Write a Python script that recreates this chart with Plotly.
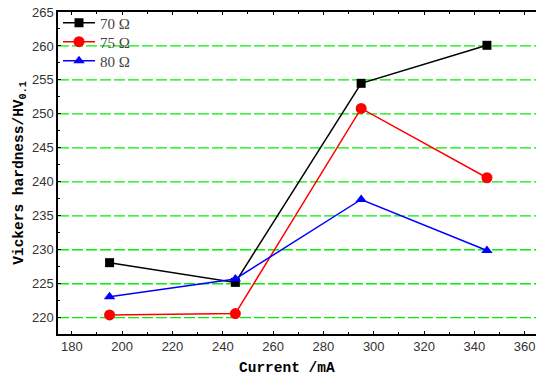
import plotly.graph_objects as go

# Vickers hardness vs. current for three resistances
current_ma = [195, 245, 295, 345]
hv_70 = [228.1, 225.2, 254.5, 260.1]
hv_75 = [220.4, 220.6, 250.8, 240.6]
hv_80 = [223.1, 225.7, 237.4, 229.9]

series = [
    ("70 Ω", hv_70, "black", "square", 9, "legend", 0.966),
    ("75 Ω", hv_75, "red", "circle", 11, "legend2", 0.907),
    ("80 Ω", hv_80, "blue", "triangle-up", 10, "legend3", 0.848),
]

legend_font = dict(family="Liberation Serif", size=15, color="#444")

fig = go.Figure()
legend_layout = {}
for name, vals, color, symbol, size, leg, ypos in series:
    fig.add_trace(go.Scatter(
        x=current_ma, y=vals, name=name, mode="lines+markers",
        line=dict(color=color, width=1.5),
        marker=dict(color=color, symbol=symbol, size=size),
        legend=leg,
    ))
    legend_layout[leg] = dict(
        x=0.0, y=ypos, xanchor="left", yanchor="middle",
        bgcolor="rgba(0,0,0,0)", borderwidth=0,
        font=legend_font, itemwidth=32,
    )

tick_font = dict(family="Liberation Sans", size=13, color="#333")
title_font = dict(family="Liberation Mono", size=14.5, color="black")

fig.update_layout(
    width=536, height=377,
    margin=dict(l=58, r=0, t=12, b=43),
    paper_bgcolor="white", plot_bgcolor="white",
    showlegend=True,
    **legend_layout,
    xaxis=dict(
        range=[174.5, 364.5],
        tickmode="array", tickvals=list(range(180, 361, 20)),
        ticks="inside", ticklen=3, tickcolor="black",
        minor=dict(ticks="inside", ticklen=2, dtick=10, tickcolor="black"),
        showline=True, linecolor="black", linewidth=1.5, mirror="ticks",
        showgrid=False, zeroline=False,
        tickfont=tick_font,
    ),
    yaxis=dict(
        range=[217.6, 265],
        tickmode="array", tickvals=list(range(220, 266, 5)),
        ticks="inside", ticklen=3, tickcolor="black",
        minor=dict(ticks="inside", ticklen=2, dtick=2.5, tickcolor="black", showgrid=False),
        showline=True, linecolor="black", linewidth=1.5, mirror=False,
        showgrid=False, zeroline=False,
        tickfont=tick_font,
    ),
    annotations=[
        dict(text="<b>Current /mA</b>", xref="paper", yref="paper",
             x=0.48, y=-0.075, xanchor="center", yanchor="top",
             showarrow=False, font=title_font),
        dict(text="<b>Vickers hardness/HV<sub>0.1</sub></b>", xref="paper", yref="paper",
             x=-0.08, y=0.5, xanchor="center", yanchor="middle", textangle=-90,
             showarrow=False, font=title_font),
    ],
)

# green dashed horizontal guide lines at each labelled hardness level below the top
for level in range(220, 261, 5):
    fig.add_shape(
        type="line", xref="paper", yref="y", x0=0, x1=1, y0=level, y1=level,
        line=dict(color="#00f000", width=1.3, dash="11px,3px"), layer="below",
    )

fig.write_html("out.html")
